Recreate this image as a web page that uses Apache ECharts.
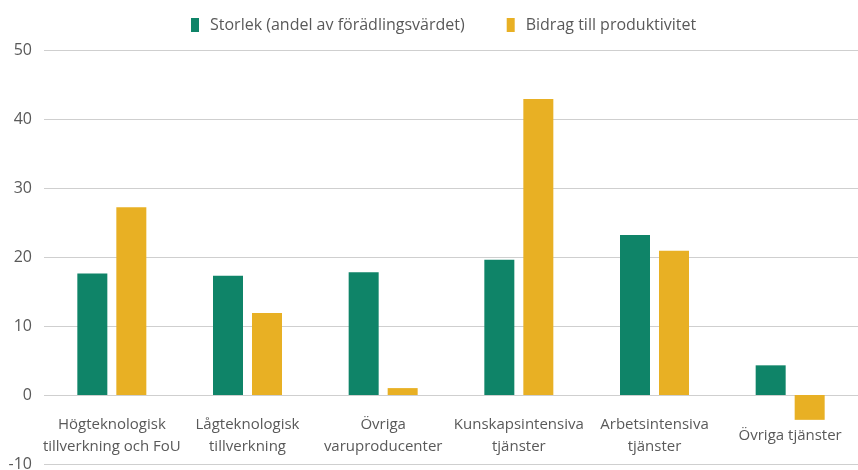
<!DOCTYPE html>
<html>
<head>
<meta charset="utf-8">
<script src="https://cdn.jsdelivr.net/npm/echarts@6/dist/echarts.min.js"></script>
<style>
  html, body { margin: 0; padding: 0; background: #fff; }
  #chart { width: 858px; height: 470px; }
</style>
</head>
<body>
<div id="chart"></div>
<script>
// kategorier och serier
const categories = [
  'Högteknologisk\ntillverkning och FoU',
  'Lågteknologisk\ntillverkning',
  'Övriga\nvaruproducenter',
  'Kunskapsintensiva\ntjänster',
  'Arbetsintensiva\ntjänster',
  'Övriga tjänster'
];
const storlek = [17.6, 17.3, 17.8, 19.6, 23.2, 4.3];
const bidrag = [27.2, 11.9, 1.0, 42.9, 20.9, -3.6];
const seriesNames = ['Storlek (andel av förädlingsvärdet)', 'Bidrag till produktivitet'];

const font = '"Open Sans", sans-serif';
const textColor = '#595959';

const chart = echarts.init(document.getElementById('chart'));

const option = {
  animation: false,
  legend: {
    top: 12,
    left: 186,
    itemWidth: 8,
    itemHeight: 14,
    itemGap: 42,
    icon: 'rect',
    textStyle: { fontFamily: font, fontSize: 16, color: textColor, padding: [0, 0, 0, 6] }
  },
  grid: {
    left: 44,
    right: 0,
    top: 50,
    bottom: 6,
    outerBoundsMode: 'none'
  },
  xAxis: {
    type: 'category',
    data: categories,
    axisLine: { show: false, onZero: false },
    axisTick: { show: false },
    axisLabel: {
      interval: 0,
      margin: -28,
      verticalAlign: 'middle',
      lineHeight: 22,
      fontFamily: font,
      fontSize: 15,
      color: textColor
    }
  },
  yAxis: {
    type: 'value',
    min: -10,
    max: 50,
    interval: 10,
    axisLine: { show: false },
    axisTick: { show: false },
    axisLabel: { margin: 12, fontFamily: font, fontSize: 16, color: textColor },
    splitLine: { lineStyle: { color: '#cfcfcf', width: 1.2 } }
  },
  series: [
    {
      name: seriesNames[0],
      type: 'bar',
      data: storlek,
      barWidth: 30,
      barGap: '30%',
      itemStyle: { color: '#0f8468' }
    },
    {
      name: seriesNames[1],
      type: 'bar',
      data: bidrag,
      barWidth: 30,
      itemStyle: { color: '#e8b024' }
    }
  ]
};

chart.setOption(option);
</script>
</body>
</html>
